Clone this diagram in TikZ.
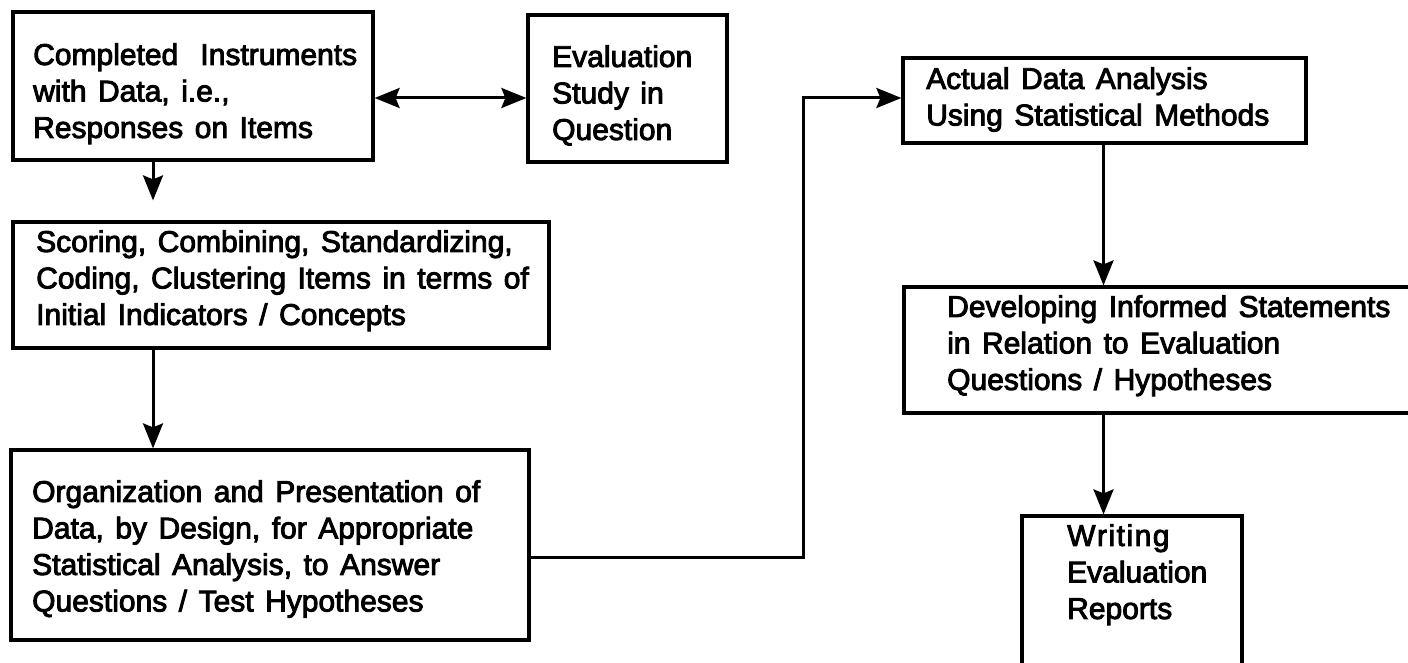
\documentclass[tikz,border=0pt]{standalone}
\usepackage{fontspec}
\setmainfont{Liberation Sans}
\newfontfamily\heavyfont{Liberation Sans}[FakeBold=3]
\usetikzlibrary{arrows.meta,fit}

\newcommand\boxfont{\heavyfont\fontsize{30}{36.5}\selectfont\spaceskip=11.5pt plus 2pt minus 1pt\relax}

\tikzset{
  box/.style={draw, line width=3.2pt, inner sep=0pt},
  txt/.style={anchor=north west, inner sep=0pt, align=left, font=\boxfont},
  arr/.style={line width=3pt, -{Stealth[length=25pt,width=20pt,inset=4pt]}},
  dbl/.style={line width=3pt, {Stealth[length=25pt,width=20pt,inset=4pt]}-{Stealth[length=25pt,width=20pt,inset=4pt]}}
}

\begin{document}
\begin{tikzpicture}[x=1pt, y=-1pt]
\clip (0,0) rectangle (1408,663);

% boxes
\node[box, fit={(13,12) (373,160)}] (b1) {};
\node[box, fit={(528,15) (727,162)}] (b2) {};
\node[box, fit={(13,222) (549,348)}] (b3) {};
\node[box, fit={(11,450) (529,640)}] (b4) {};
\node[box, fit={(903,58) (1306,143)}] (b5) {};
\node[box, fit={(904,287) (1420,413)}] (b6) {};
\node[box, fit={(1022,516) (1242,680)}] (b7) {};

% box texts
\node[txt] (t1) at (33,43) {\makebox[324pt][s]{Completed Instruments}\\with Data, i.e.,\\Responses on Items};
\node[txt] (t2) at (552,45) {Evaluation\\Study in\\Question};
\node[txt] (t3) at (36,230) {Scoring, Combining, Standardizing,\\Coding, Clustering Items in terms of\\Initial Indicators / Concepts};
\node[txt] (t4) at (32,480) {Organization and Presentation of\\Data, by Design, for Appropriate\\Statistical Analysis, to Answer\\Questions / Test Hypotheses};
\node[txt] (t5) at (926,67) {Actual Data Analysis\\Using Statistical Methods};
\node[txt] (t6) at (947,295) {Developing Informed Statements\\in Relation to Evaluation\\Questions / Hypotheses};
\node[txt] (t7) at (1067,524) {W\kern1.5pt r\kern1.5pt i\kern1.5pt t\kern1.5pt i\kern1.5pt n\kern1.5pt g\\Evaluation\\Reports};

% helper positions for the connectors
\coordinate (cx1) at (153,0);
\coordinate (cx2) at (1103.5,0);
\coordinate (cy1) at (0,98);
\coordinate (cy2) at (0,557);
\coordinate (turn) at (803,0);

% connectors
\draw[dbl] (b1.east |- cy1) -- (b2.west |- cy1);
\draw[arr, shorten >=20pt] (b1.south -| cx1) -- (b3.north -| cx1);
\draw[arr] (b3.south -| cx1) -- (b4.north -| cx1);
\draw[arr] (b4.east |- cy2) -| (turn |- cy1) -- (b5.west |- cy1);
\draw[arr] (b5.south -| cx2) -- (b6.north -| cx2);
\draw[arr] (b6.south -| cx2) -- (b7.north -| cx2);
\end{tikzpicture}
\end{document}
